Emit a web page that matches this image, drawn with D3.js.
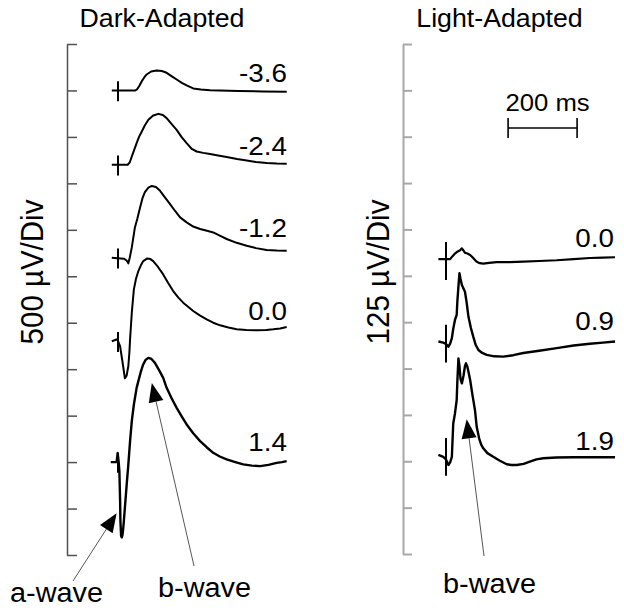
<!DOCTYPE html>
<html><head><meta charset="utf-8">
<script src="https://cdn.jsdelivr.net/npm/d3@7"></script>
<style>body{margin:0;background:#fff}svg{display:block}text{font-family:Arial,"Liberation Sans",sans-serif;fill:#000}</style>
</head><body><svg id="c" width="624" height="613"></svg>
<script>
// ---- DATA (time in ms after flash, amplitude in µV) ----
const darkLabels = ["-3.6", "-2.4", "-1.2", "0.0", "1.4"];
const lightLabels = ["0.0", "0.9", "1.9"];
const darkOffsets = [5000, 4200, 3200, 2300, 1000];   // trace baselines, µV
const lightOffsets = [795, 572, 267];                 // trace baselines, µV
const darkTicks = [0,500,1000,1500,2000,2500,3000,3500,4000,4500,5000,5500];
const lightTicks = [0,125,250,375,500,625,750,875,1000,1125,1250,1375];

const darkM36 = [[-18,0],[50,0],[56,15],[62,50],[69,100],[76,140],[83,172],[96,204],[112,215],[127,210],[141,190],[155,155],[170,118],[185,82],[199,54],[218,22],[240,10],[267,3],[350,-5],[420,-10],[489,-14]];
const darkM24 = [[-18,0],[28,0],[34,25],[40,89],[47,160],[54,233],[61,300],[69,358],[78,425],[88,484],[102,530],[117,548],[130,535],[141,502],[155,440],[170,376],[185,295],[199,233],[214,170],[228,143],[247,128],[267,115],[290,100],[315,83],[345,62],[373,46],[400,30],[431,18],[460,13],[489,11]];
const darkM12 = [[-18,0],[17,-11],[25,-30],[30,-61],[34,0],[37,55],[40,111],[45,230],[49,326],[56,420],[64,540],[71,640],[78,705],[88,755],[98,772],[110,760],[122,720],[136,650],[151,577],[166,500],[180,434],[199,380],[218,335],[238,309],[258,290],[276,272],[295,238],[315,201],[344,160],[373,129],[400,103],[431,83],[460,77],[489,75]];
const dark00 = [[-18,0],[-2,22],[6,-51],[13,-220],[20,-398],[25,-370],[30,-266],[33,-120],[35,22],[40,308],[46,559],[52,670],[59,756],[66,815],[73,863],[85,892],[94,885],[102,863],[116,800],[131,720],[145,630],[160,541],[175,470],[189,416],[204,370],[218,326],[237,280],[257,237],[276,200],[296,172],[320,148],[344,129],[372,121],[402,118],[430,122],[450,129],[470,138],[489,154]];
const dark14 = [[-21,0],[-4,0],[-1,97],[2,0],[4,-97],[6,-400],[7,-634],[9,-796],[11,-810],[13,-785],[15,-720],[17,-634],[20,-491],[25,-250],[30,-25],[35,226],[40,441],[46,620],[54,799],[59,871],[66,970],[73,1051],[80,1100],[88,1122],[97,1110],[107,1068],[119,990],[131,906],[141,799],[155,690],[170,584],[185,490],[199,405],[218,310],[238,226],[257,160],[276,100],[295,60],[315,29],[340,0],[363,-25],[388,-38],[412,-43],[436,-30],[460,-8],[475,0],[489,11]];
const light00 = [[-22,0],[12,0],[19,8],[26,15],[33,20],[41,24],[46,29],[50,24],[55,17],[62,15],[70,11],[80,2],[89,-7],[98,-11],[108,-12],[125,-10],[147,-8],[185,-8],[224,-7],[270,-5],[321,-3],[370,0],[417,3],[455,4],[490,5]];
const light09 = [[-22,1],[-8,-2],[0,-6],[7,-13],[12,-5],[17,10],[21,35],[26,59],[31,73],[33,110],[36,149],[39,185],[42,170],[46,153],[50,145],[55,135],[60,105],[65,68],[72,38],[79,14],[86,-8],[94,-22],[105,-30],[118,-35],[140,-39],[166,-40],[195,-36],[224,-30],[270,-24],[321,-17],[370,-10],[417,-5],[455,-2],[490,1]];
const light19 = [[-22,0],[-8,-5],[0,-12],[7,-27],[12,-20],[17,-5],[21,85],[26,112],[31,148],[33,200],[36,260],[39,240],[42,205],[46,193],[51,215],[55,240],[58,247],[62,238],[66,220],[70,202],[77,160],[84,121],[89,76],[96,45],[102,28],[108,18],[120,5],[137,-5],[155,-15],[176,-25],[190,-27],[205,-27],[225,-24],[243,-18],[262,-12],[282,-9],[320,-7],[369,-6],[420,-6],[490,-6]];
const darkTraces = [darkM36, darkM24, darkM12, dark00, dark14];
const lightTraces = [light00, light09, light19];
const scaleBarMs = [180, 380];
// annotation targets [trace index, t ms, µV]
const aWaveTarget = [4, -4, -550];
const bWaveDarkTarget = [4, 98, 850];
const bWaveLightTarget = [2, 60, 96];

// ---- LAYOUT ----
const svg = d3.select("#c");
const xDark = d3.scaleLinear().domain([-20, 500]).range([111.1, 290.5]);
const xLight = d3.scaleLinear().domain([-20, 500]).range([439.1, 618.5]);
const yDark = d3.scaleLinear().domain([0, 5500]).range([555, 44]);
const yLight = d3.scaleLinear().domain([0, 1375]).range([554, 44]);
const SX = 1.07;

function txt(x, y, s, size, anchor, rot) {
  const g = svg.append("g").attr("transform", `translate(${x},${y}) scale(${SX},1)` + (rot ? ` rotate(${rot})` : ""));
  g.append("text").attr("text-anchor", anchor || "start").attr("font-size", size).text(s);
}

// axes
const axL = svg.append("g").attr("transform", "translate(67,0)")
  .call(d3.axisRight(yDark).tickValues(darkTicks).tickSize(10).tickSizeOuter(0).tickFormat(""));
axL.selectAll("path,line").attr("stroke", "#505050").attr("stroke-width", 1.5);
const axR = svg.append("g").attr("transform", "translate(403,0)")
  .call(d3.axisRight(yLight).tickValues(lightTicks).tickSize(9).tickSizeOuter(0).tickFormat(""));
axR.selectAll("path,line").attr("stroke", "#a8a8a8").attr("stroke-width", 2);

function drawSet(traces, offsets, labels, xs, ys, stimUp, stimDn, labelDy, labelX, sw) {
  traces.forEach((tr, i) => {
    const off = offsets[i];
    const line = d3.line().x(d => xs(d[0])).y(d => ys(off + d[1])).curve(d3.curveLinear);
    svg.append("path").attr("d", line(tr)).attr("fill", "none").attr("stroke", "#000")
      .attr("stroke-width", sw[i]).attr("stroke-linejoin", "round");
    svg.append("line").attr("x1", xs(0)).attr("x2", xs(0))
      .attr("y1", ys(off + stimUp)).attr("y2", ys(off - stimDn))
      .attr("stroke", "#000").attr("stroke-width", 2);
    txt(labelX, ys(off) - labelDy[i], labels[i], 26, "end");
  });
}
drawSet(darkTraces, darkOffsets, darkLabels, xDark, yDark, 100, 115, [8, 10, 21, 21, 11], 287, [2, 2, 2, 2, 2.4]);
drawSet(lightTraces, lightOffsets, lightLabels, xLight, yLight, 46, 56, [12, 12, 5], 614, [2.2, 2.4, 2.4]);

// titles and axis labels
txt(162, 27, "Dark-Adapted", 25, "middle");
txt(499.5, 27, "Light-Adapted", 25, "middle");
txt(43, 272, "500 \u00B5V/Div", 29.5, "middle", -90);
txt(389, 272, "125 \u00B5V/Div", 29.5, "middle", -90);

// scale bar
const sb = svg.append("g").attr("stroke", "#000").attr("stroke-width", 1.6);
sb.append("line").attr("x1", xLight(scaleBarMs[0])).attr("x2", xLight(scaleBarMs[1])).attr("y1", 128).attr("y2", 128);
sb.append("line").attr("x1", xLight(scaleBarMs[0])).attr("x2", xLight(scaleBarMs[0])).attr("y1", 118).attr("y2", 138);
sb.append("line").attr("x1", xLight(scaleBarMs[1])).attr("x2", xLight(scaleBarMs[1])).attr("y1", 118).attr("y2", 138);
txt((xLight(scaleBarMs[0]) + xLight(scaleBarMs[1])) / 2 + 5, 111, "200 ms", 24, "middle");

// annotations
function arrow(x0, y0, x1, y1) {
  const dx = x1 - x0, dy = y1 - y0, L = Math.hypot(dx, dy), ux = dx / L, uy = dy / L;
  const hl = 19, hw = 7.5;
  const bx = x1 - ux * hl, by = y1 - uy * hl;
  svg.append("line").attr("x1", x0).attr("y1", y0).attr("x2", bx).attr("y2", by)
    .attr("stroke", "#555").attr("stroke-width", 1);
  svg.append("polygon").attr("points", [[x1, y1], [bx - uy * hw, by + ux * hw], [bx + uy * hw, by - ux * hw]].map(p => p.join(",")).join(" "))
    .attr("fill", "#000");
}
arrow(73, 581, xDark(aWaveTarget[1]), yDark(darkOffsets[aWaveTarget[0]] + aWaveTarget[2]));
arrow(194, 566, xDark(bWaveDarkTarget[1]), yDark(darkOffsets[bWaveDarkTarget[0]] + bWaveDarkTarget[2]));
arrow(484, 556, xLight(bWaveLightTarget[1]), yLight(lightOffsets[bWaveLightTarget[0]] + bWaveLightTarget[2]));
txt(10, 602, "a-wave", 27, "start");
txt(158, 597, "b-wave", 27, "start");
txt(443, 593, "b-wave", 27, "start");
</script></body></html>
